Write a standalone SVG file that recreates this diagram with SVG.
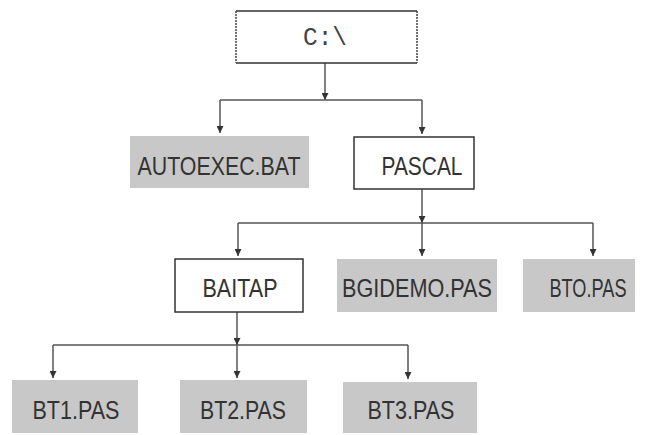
<svg xmlns="http://www.w3.org/2000/svg" width="650" height="435" viewBox="0 0 650 435">
<style>
.box{fill:#fff;stroke:#333;stroke-width:1.5}
.file{fill:#c8c8c8;stroke:none}
.lbl{font-family:"Liberation Sans",Arial,sans-serif;font-size:26px;fill:#333;text-anchor:middle}
.mono{font-family:"Liberation Mono","Courier New",monospace;font-size:25px;fill:#444;text-anchor:middle}
.ln{fill:none;stroke:#555;stroke-width:1.5}
</style>
<defs>
<marker id="ah" viewBox="0 0 8 8" refX="8" refY="4" markerWidth="8" markerHeight="7" markerUnits="userSpaceOnUse" orient="auto">
<path d="M0,0 L8,4 L0,8 Z" fill="#333"/>
</marker>
</defs>
<g id="connectors">
<path class="ln" d="M325,63 V100" marker-end="url(#ah)"/>
<path class="ln" d="M220,100 H422"/>
<path class="ln" d="M220,100 V133" marker-end="url(#ah)"/>
<path class="ln" d="M422,100 V134" marker-end="url(#ah)"/>
<path class="ln" d="M422,189 V223" marker-end="url(#ah)"/>
<path class="ln" d="M238,223 H593"/>
<path class="ln" d="M238,223 V256" marker-end="url(#ah)"/>
<path class="ln" d="M422,223 V256" marker-end="url(#ah)"/>
<path class="ln" d="M593,223 V256" marker-end="url(#ah)"/>
<path class="ln" d="M237,312 V345" marker-end="url(#ah)"/>
<path class="ln" d="M53,345 H408"/>
<path class="ln" d="M53,345 V378" marker-end="url(#ah)"/>
<path class="ln" d="M237,345 V378" marker-end="url(#ah)"/>
<path class="ln" d="M408,345 V379" marker-end="url(#ah)"/>
</g>
<g id="root">
<rect x="236" y="11" width="181" height="52" fill="#fff" stroke="none"/>
<path d="M236,11 H417 M236,63 H417" stroke="#333" stroke-width="1.5" fill="none"/>
<path d="M236,11 V63 M417,11 V63" stroke="#444" stroke-width="1.5" stroke-dasharray="2 1" fill="none"/>
<text class="mono" x="325" y="45" textLength="44" lengthAdjust="spacingAndGlyphs">C:\</text>
</g>
<g id="autoexec">
<rect class="file" x="130" y="136" width="179" height="52"/>
<text class="lbl" x="219" y="175" textLength="163" lengthAdjust="spacingAndGlyphs">AUTOEXEC.BAT</text>
</g>
<g id="pascal">
<rect class="box" x="354" y="137" width="120" height="52"/>
<text class="lbl" x="422" y="175" textLength="81" lengthAdjust="spacingAndGlyphs">PASCAL</text>
</g>
<g id="baitap">
<rect class="box" x="175" y="259" width="128" height="53"/>
<text class="lbl" x="240" y="297" textLength="75" lengthAdjust="spacingAndGlyphs">BAITAP</text>
</g>
<g id="bgidemo">
<rect class="file" x="337" y="259" width="160" height="53"/>
<text class="lbl" x="417" y="297" textLength="150" lengthAdjust="spacingAndGlyphs">BGIDEMO.PAS</text>
</g>
<g id="bto">
<rect class="file" x="523" y="259" width="112" height="53"/>
<text class="lbl" x="588" y="297" textLength="77" lengthAdjust="spacingAndGlyphs">BTO.PAS</text>
</g>
<g id="bt1">
<rect class="file" x="12" y="380" width="126" height="53"/>
<text class="lbl" x="76" y="419" textLength="87" lengthAdjust="spacingAndGlyphs">BT1.PAS</text>
</g>
<g id="bt2">
<rect class="file" x="180" y="380" width="127" height="53"/>
<text class="lbl" x="243" y="419" textLength="86" lengthAdjust="spacingAndGlyphs">BT2.PAS</text>
</g>
<g id="bt3">
<rect class="file" x="343" y="382" width="134" height="51"/>
<text class="lbl" x="411" y="419" textLength="87" lengthAdjust="spacingAndGlyphs">BT3.PAS</text>
</g>
</svg>
